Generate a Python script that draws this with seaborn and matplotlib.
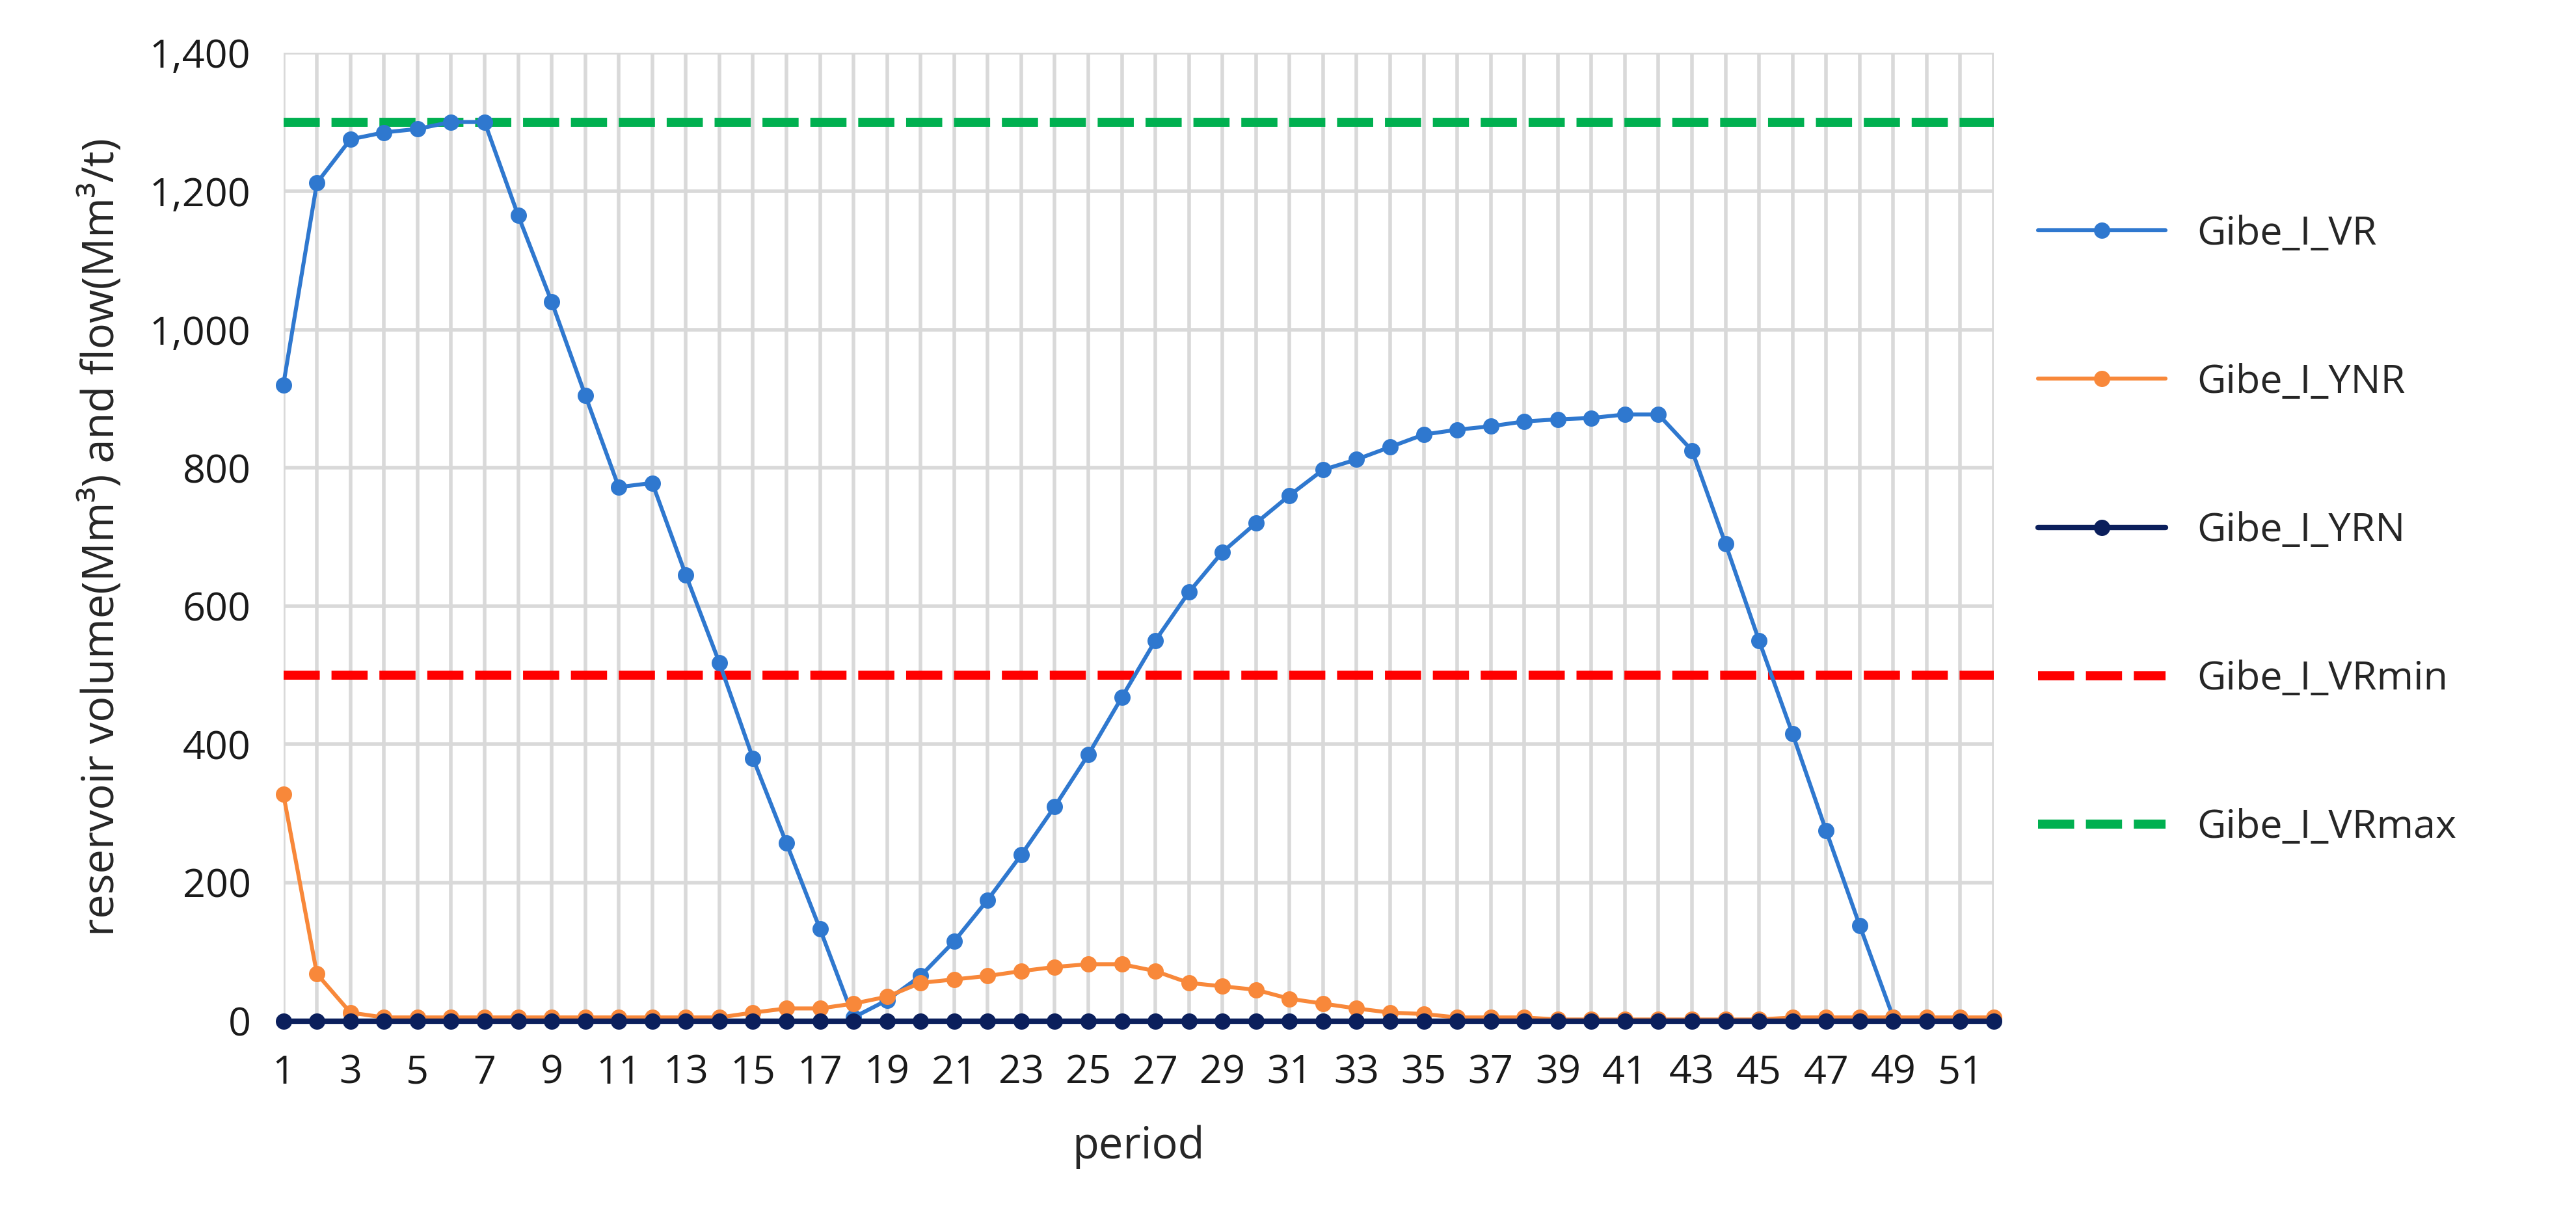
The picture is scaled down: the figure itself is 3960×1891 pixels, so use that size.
import numpy as np
import pandas as pd
import seaborn as sns
import matplotlib.pyplot as plt

periods = list(range(1, 53))
vr = [920, 1212, 1275, 1285, 1290, 1300, 1300, 1165, 1040, 905, 772, 778, 645, 518, 380, 257, 133, 5,
      30, 65, 115, 175, 240, 310, 385, 468, 550, 620, 678, 720, 760, 797, 812, 830, 848, 855, 860, 867,
      870, 872, 877, 877, 825, 690, 550, 415, 275, 138, 5, 2, 2, 2]
ynr = [328, 68, 12, 5, 5, 5, 5, 5, 5, 5, 5, 5, 5, 5, 12, 18, 18, 25, 35, 55, 60, 65, 72, 78, 82, 82,
       72, 55, 50, 45, 32, 25, 18, 12, 10, 5, 5, 5, 2, 2, 2, 2, 2, 2, 2, 5, 5, 5, 5, 5, 5, 5]
yrn = [0] * 52
vr_min = 500
vr_max = 1300

sns.set_theme(style="whitegrid")
plt.rcParams['font.family'] = ['Open Sans', 'DejaVu Sans']

fig = plt.figure(figsize=(19.8, 9.455), dpi=200)
ax = fig.add_axes([0.110, 0.170, 0.664, 0.787])

df = pd.DataFrame({'period': periods, 'Gibe_I_VR': vr, 'Gibe_I_YNR': ynr, 'Gibe_I_YRN': yrn})
colors = {'Gibe_I_VR': '#2f78cf', 'Gibe_I_YNR': '#f8883a', 'Gibe_I_YRN': '#0b1f5c'}
widths = {'Gibe_I_VR': 2.2, 'Gibe_I_YNR': 2.2, 'Gibe_I_YRN': 3}
for name, c in colors.items():
    sns.lineplot(data=df, x='period', y=name, ax=ax, color=c, marker='o', markersize=9,
                 markeredgewidth=0, linewidth=widths[name], label=name, clip_on=False, zorder=3)
ax.axhline(vr_min, color='#ff0000', linestyle=(0, (4, 1.3)), linewidth=5, label='Gibe_I_VRmin')
ax.axhline(vr_max, color='#00b050', linestyle=(0, (4, 1.3)), linewidth=5, label='Gibe_I_VRmax')

ax.set_xlim(1, 52)
ax.set_ylim(0, 1400)
ax.set_xticks(periods)
ax.set_xticklabels([str(p) if p % 2 == 1 else '' for p in periods])
ax.set_yticks(range(0, 1401, 200))
ax.set_yticklabels([f'{v:,}' for v in range(0, 1401, 200)])
ax.grid(True, color='#d9d9d9', linewidth=2)
for s in ax.spines.values():
    s.set_visible(False)
ax.tick_params(labelsize=22, colors='#1a1a1a', pad=12)
ax.set_xlabel('period', fontsize=24, labelpad=18)
ax.set_ylabel('reservoir volume(Mm³) and flow(Mm³/t)', fontsize=24, labelpad=14)

ax.legend(loc='upper left', bbox_to_anchor=(1.005, 0.87), frameon=False, fontsize=22,
          labelspacing=2.75, handlelength=3.2)

fig.savefig('out.png', dpi=200)
